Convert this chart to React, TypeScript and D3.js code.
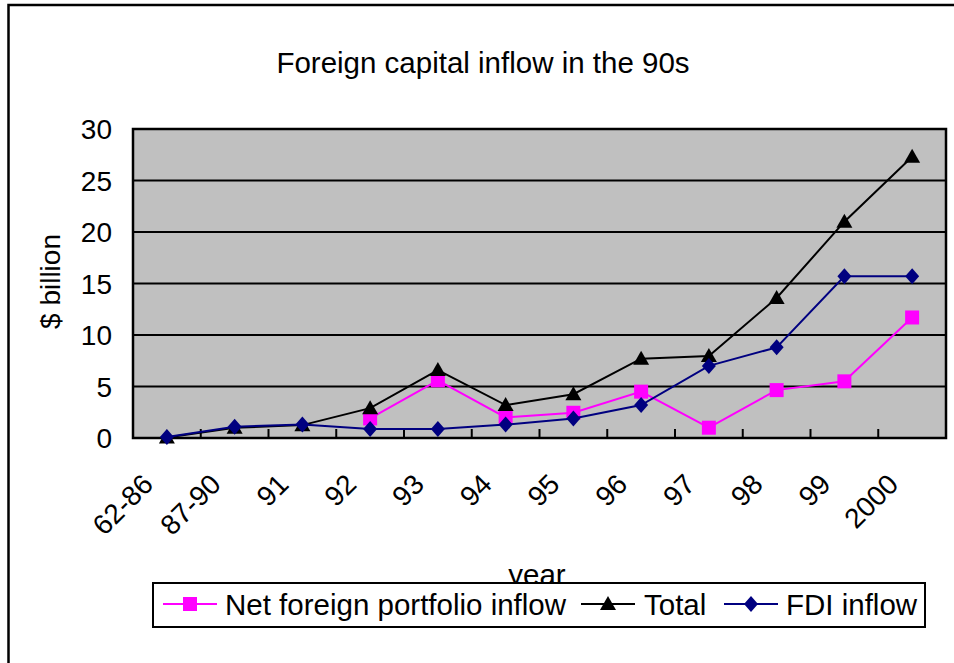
import React from "react";
import * as d3 from "d3";

const categories = ["62-86", "87-90", "91", "92", "93", "94", "95", "96", "97", "98", "99", "2000"];
const netPortfolio: (number | null)[] = [null, null, null, 1.9, 5.6, 2.0, 2.45, 4.5, 1.0, 4.65, 5.5, 11.7];
const total: (number | null)[] = [0.05, 1.0, 1.25, 2.9, 6.6, 3.2, 4.25, 7.7, 7.95, 13.6, 21.0, 27.3];
const fdi: (number | null)[] = [0.1, 1.1, 1.3, 0.87, 0.87, 1.3, 1.9, 3.2, 7.0, 8.8, 15.7, 15.7];
const yTicks = [0, 5, 10, 15, 20, 25, 30];

const series = [
  { name: "Net foreign portfolio inflow", values: netPortfolio, color: "#FF00FF", marker: "square" },
  { name: "Total", values: total, color: "#000000", marker: "triangle" },
  { name: "FDI inflow", values: fdi, color: "#000080", marker: "diamond" },
];

const W = 954, H = 663;
const plot = { left: 133, right: 946, top: 129, bottom: 438 };
const FONT = "'Liberation Sans', Arial, sans-serif";

function Marker({ type, x, y, color }: { type: string; x: number; y: number; color: string }) {
  if (type === "square") return <rect x={x - 7} y={y - 7} width={14} height={14} fill={color} />;
  if (type === "triangle")
    return <path d={`M${x},${y - 8}L${x + 8},${y + 6}L${x - 8},${y + 6}Z`} fill={color} />;
  return <path d={`M${x},${y - 8}L${x + 7},${y}L${x},${y + 8}L${x - 7},${y}Z`} fill={color} />;
}

export default function App() {
  const x = d3.scaleBand<string>().domain(categories).range([plot.left, plot.right]);
  const y = d3.scaleLinear().domain([0, 30]).range([plot.bottom, plot.top]);
  const cx = (c: string) => (x(c) as number) + x.bandwidth() / 2;
  const line = d3
    .line<[string, number | null]>()
    .defined((d) => d[1] !== null)
    .x((d) => cx(d[0]))
    .y((d) => y(d[1] as number));

  const legendItems = [
    { lx: 163, tx: 225 },
    { lx: 581, tx: 644 },
    { lx: 724, tx: 786 },
  ];

  return (
    <svg width={W} height={H} style={{ position: "absolute", left: 0, top: 0, background: "#fff" }} fontFamily={FONT}>
      {/* outer frame */}
      <path d={`M8.5,${H + 5}V5H${W + 5}`} fill="none" stroke="#000" strokeWidth={2.5} />
      <text x={483} y={73} fontSize={29.5} textAnchor="middle" fill="#000">Foreign capital inflow in the 90s</text>

      <rect x={plot.left} y={plot.top} width={plot.right - plot.left} height={plot.bottom - plot.top} fill="#C0C0C0" />
      {yTicks.filter((t) => t > 0 && t < 30).map((t) => (
        <line key={t} x1={plot.left} x2={plot.right} y1={y(t)} y2={y(t)} stroke="#000" strokeWidth={2} />
      ))}
      {categories.slice(1).map((c) => (
        <line key={c} x1={x(c)} x2={x(c)} y1={plot.bottom} y2={plot.bottom - 9} stroke="#000" strokeWidth={2} />
      ))}
      <rect x={plot.left} y={plot.top} width={plot.right - plot.left} height={plot.bottom - plot.top} fill="none" stroke="#000" strokeWidth={2.5} />

      {yTicks.map((t) => (
        <text key={t} x={112} y={y(t)} dy="0.36em" fontSize={28} textAnchor="end" fill="#000">{t}</text>
      ))}
      {categories.map((c) => (
        <text key={c} transform={`translate(${cx(c) - 12},${486}) rotate(-45)`} fontSize={28} textAnchor="end" fill="#000">{c}</text>
      ))}
      <text transform={`translate(60,${(plot.top + plot.bottom) / 2 - 2}) rotate(-90)`} fontSize={28} textAnchor="middle" fill="#000">$ billion</text>
      <text x={537} y={585} fontSize={29.5} textAnchor="middle" fill="#000">year</text>

      {series.map((s) => (
        <g key={s.name}>
          <path d={line(categories.map((c, i) => [c, s.values[i]]) as any) || ""} fill="none" stroke={s.color} strokeWidth={2} />
          {categories.map((c, i) =>
            s.values[i] === null ? null : <Marker key={c} type={s.marker} x={cx(c)} y={y(s.values[i] as number)} color={s.color} />
          )}
        </g>
      ))}

      <rect x={153} y={583} width={772} height={44} fill="#fff" stroke="#000" strokeWidth={2} />
      {series.map((s, i) => (
        <g key={s.name}>
          <line x1={legendItems[i].lx} x2={legendItems[i].lx + 54} y1={604} y2={604} stroke={s.color} strokeWidth={2} />
          <Marker type={s.marker} x={legendItems[i].lx + 27} y={604} color={s.color} />
          <text x={legendItems[i].tx} y={615} fontSize={29.5} fill="#000">{s.name}</text>
        </g>
      ))}
    </svg>
  );
}
